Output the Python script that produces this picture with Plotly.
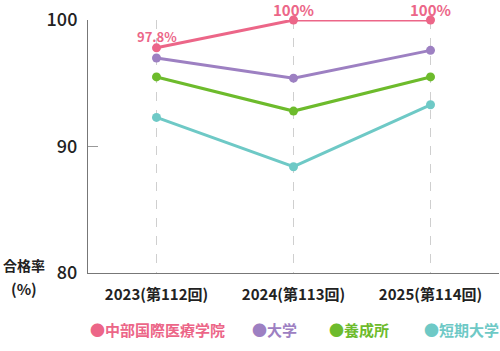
import plotly.graph_objects as go

categories = ["2023(第112回)", "2024(第113回)", "2025(第114回)"]
series_names = ["中部国際医療学院", "大学", "養成所", "短期大学"]
series_values = [
    [97.8, 100.0, 100.0],
    [97.0, 95.4, 97.6],
    [95.5, 92.8, 95.5],
    [92.3, 88.4, 93.3],
]
series_colors = ["#EC6688", "#9D80C2", "#6DBB2C", "#6EC9C6"]
label_texts = ["97.8%", "100%", "100%"]
label_sizes = [13, 15, 15]
y_ticks = [80, 90, 100]

W, H = 500, 351
L, R, T, B = 88, 1, 20, 78
PW = W - L - R
PH = H - T - B
FONT = "Noto Sans CJK JP"

fig = go.Figure()
for name, vals, col in zip(series_names, series_values, series_colors):
    fig.add_trace(go.Scatter(
        x=categories, y=vals, name=name, mode="lines+markers",
        line=dict(color=col, width=3),
        marker=dict(color=col, size=9),
        cliponaxis=False, showlegend=False))

# value labels for the first series
for cat, v, txt, sz in zip(categories, series_values[0], label_texts, label_sizes):
    fig.add_annotation(x=cat, y=v, xref="x", yref="y", text=txt, showarrow=False,
                       xanchor="center", yanchor="middle", yshift=11, borderpad=0,
                       font=dict(family=FONT, size=sz, color=series_colors[0], weight="bold"))

# pseudo-legend
legend_px = [88, 250, 327, 422]
for name, col, px in zip(series_names, series_colors, legend_px):
    fig.add_annotation(x=(px - L) / PW, y=(T + PH - 329) / PH, xref="paper", yref="paper",
                       xanchor="left", yanchor="middle", showarrow=False,
                       text="●" + name,
                       font=dict(family=FONT, size=15, color=col, weight="bold"))

fig.add_annotation(x=(24 - L) / PW, y=(T + PH - 265) / PH, xref="paper", yref="paper",
                   xanchor="center", yanchor="middle", showarrow=False,
                   text="合格率",
                   font=dict(family=FONT, size=14, color="#222", weight="bold"))
fig.add_annotation(x=(24 - L) / PW, y=(T + PH - 288) / PH, xref="paper", yref="paper",
                   xanchor="center", yanchor="middle", showarrow=False,
                   text="(%)",
                   font=dict(family=FONT, size=15, color="#222", weight="bold"))

fig.update_layout(
    width=W, height=H,
    margin=dict(l=L, r=R, t=T, b=B, pad=0),
    paper_bgcolor="white", plot_bgcolor="white",
    font=dict(family=FONT, color="#222"),
    xaxis=dict(type="category", range=[-0.5, 2.5], showgrid=True, gridcolor="#cfcfcf",
               griddash="dash", gridwidth=1, showline=True, linecolor="#777", linewidth=1,
               ticks="", zeroline=False, fixedrange=True, ticklabelstandoff=8,
               tickfont=dict(family=FONT, size=15, color="#222", weight="bold")),
    yaxis=dict(range=[80, 100], tickvals=y_ticks, ticktext=[str(v) for v in y_ticks],
               showgrid=False, zeroline=False, showline=True, linecolor="#777", linewidth=1,
               ticks="inside", ticklen=10, tickcolor="#999", tickwidth=1,
               ticklabelstandoff=6,
               tickfont=dict(family=FONT, size=18, color="#222", weight=500)),
)

fig.write_html("out.html")
